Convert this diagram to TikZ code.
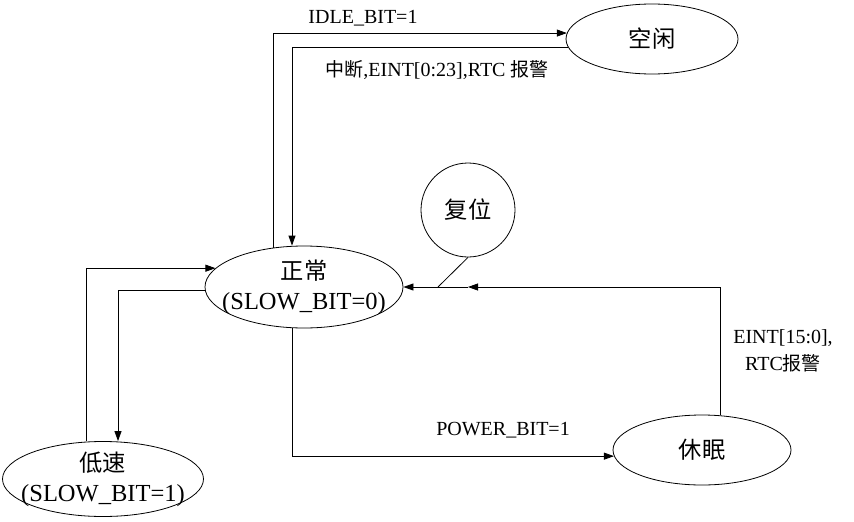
\documentclass[tikz,border=0pt]{standalone}
\usepackage{fontspec}
\setmainfont{Liberation Serif}
\newfontfamily\cjk{Noto Sans CJK SC}[Scale=0.95]
\usetikzlibrary{shapes.geometric,arrows.meta}

\begin{document}
\begin{tikzpicture}[x=1pt, y=-1pt, line width=0.8pt, >={Triangle[length=10pt,width=7pt]},
  main/.style = {draw, ellipse, inner sep=0pt},
  txt/.style = {align=center, inner sep=0pt, font=\fontsize{24.5}{30}\selectfont},
  lbl/.style = {align=center, font=\fontsize{20}{27}\selectfont}]
\useasboundingbox (0,0) rectangle (854,522);
\node[main, minimum width=198pt, minimum height=82pt, label={[txt]center:{{\cjk 正常}\\(SLOW\_BIT=0)}}] (1) at (304,287) {};
\node[main, minimum width=172pt, minimum height=70pt, label={[txt]center:{\cjk 空闲}}] (2) at (652,39) {};
\node[main, circle, minimum size=94pt, label={[txt]center:{\cjk 复位}}] (3) at (468,210) {};
\node[main, minimum width=178pt, minimum height=70pt, label={[txt]center:{\cjk 休眠}}] (4) at (702,450) {};
\node[main, minimum width=201pt, minimum height=75pt, label={[txt]center:{{\cjk 低速}\\(SLOW\_BIT=1)}}] (5) at (103,479) {};
\coordinate (j) at (438,287);
\node[lbl] (a) at (363,18) {IDLE\_BIT=1};
\node[lbl] (b) at (437,70) {{\cjk 中断},EINT[0:23],RTC {\cjk 报警}};
\node[lbl] (c) at (503,430) {POWER\_BIT=1};
\node[lbl] (d) at (783,351) {EINT[15:0],\\RTC{\cjk 报警}};
\draw[->] (1.128) |- (2.176);
\draw[->] (2.186) -| ([xshift=-12pt]1.north);
\draw (3.south) -- (j);
\draw[->] ([xshift=18pt]4.north) |- ([xshift=30pt]j);
\draw[->] ([xshift=30pt]j) -- (1.east);
\draw[->] ([xshift=-12pt]1.south) |- (4.184);
\draw[->] ([xshift=-17pt]5.north) |- (1.168);
\draw[->] (1.182) -| ([xshift=15pt]5.north);
\end{tikzpicture}
\end{document}
